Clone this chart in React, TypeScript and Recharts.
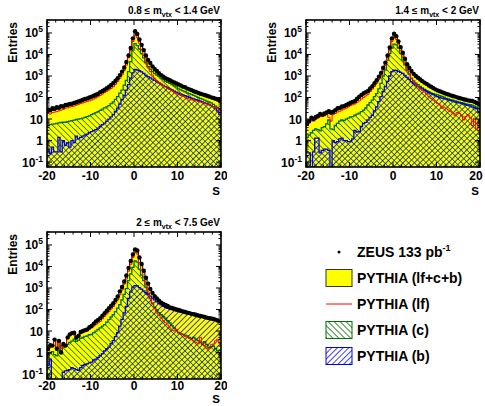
import React from "react";
import { Area, ComposedChart, Line, Scatter, XAxis, YAxis } from "recharts";

// 80 bins of width 0.5 in S, from -20 to 20 (left edges)
const N_BINS = 80;
const EDGES = Array.from({ length: N_BINS + 1 }, (_, i) => -20 + i * 0.5);

// ---- 0.8 <= m_vtx < 1.4 GeV
const p1Zeus = [
  28, 26, 32, 30, 35, 34, 40, 38, 45, 46,
  50, 52, 56, 60, 66, 71, 79, 85, 91, 100,
  110, 120, 135, 150, 178, 200, 230, 270, 316, 380,
  470, 600, 790, 1100, 1600, 2500, 4500, 8900, 20000, 56000,
  120000, 89000, 50000, 28000, 16000, 8900, 5600, 4000, 2800, 2100,
  1700, 1350, 1100, 930, 790, 710, 630, 560, 500, 450,
  400, 360, 320, 300, 260, 240, 220, 195, 180, 165,
  150, 140, 130, 120, 112, 102, 95, 87, 80, 70,
];
const p1Total = [
  22, 22, 25, 26, 29, 29, 33, 34, 38, 40,
  43, 45, 48, 52, 57, 62, 68, 74, 80, 88,
  96, 106, 118, 133, 155, 176, 205, 240, 285, 340,
  420, 540, 720, 1000, 1450, 2300, 4200, 8300, 19000, 53000,
  112000, 85000, 47000, 26000, 15000, 8400, 5300, 3700, 2600, 1950,
  1550, 1250, 1020, 860, 730, 650, 580, 520, 460, 415,
  370, 330, 300, 275, 245, 222, 202, 182, 166, 152,
  140, 130, 120, 111, 103, 95, 88, 80, 73, 65,
];
const p1Lf = [
  18, 17, 20, 21, 22, 24, 26, 28, 32, 33,
  36, 38, 40, 44, 48, 52, 56, 61, 66, 70,
  76, 85, 95, 108, 126, 145, 170, 195, 224, 265,
  316, 410, 560, 780, 1120, 1800, 3200, 7000, 15000, 40000,
  80000, 60000, 33000, 17000, 9000, 4600, 2400, 1600, 1100, 800,
  600, 500, 420, 360, 310, 270, 235, 205, 175, 155,
  140, 125, 115, 105, 90, 85, 78, 74, 71, 66,
  62, 58, 54, 50, 46, 42, 38, 34, 30, 25,
];
const p1C = [
  5, 5.5, 5.8, 6, 6.3, 6.6, 6.9, 7.1, 7.1, 7.6,
  8, 8.5, 8.9, 9.5, 10, 10.5, 11, 12, 13, 14,
  16, 18, 20, 22, 25, 29, 33, 37, 42, 52,
  63, 82, 110, 160, 220, 380, 630, 1600, 4700, 16000,
  32000, 26000, 18000, 11000, 7000, 4200, 2800, 2100, 1600, 1300,
  1100, 950, 800, 680, 560, 500, 450, 400, 350, 310,
  250, 225, 205, 185, 166, 150, 135, 125, 112, 102,
  92, 84, 76, 68, 62, 56, 48, 40, 34, 28,
];
const p1B = [
  0.4, 0.25, 0.5, 0.3, 0.3, 1.4, 0.3, 1.0, 0.6, 0.8,
  0.5, 1.0, 0.8, 1.6, 1.2, 1.4, 1.6, 1.8, 2.0, 2.3,
  2.6, 2.9, 3.2, 3.8, 4.5, 5.5, 6.5, 8, 10, 12.5,
  16, 22, 32, 50, 80, 125, 220, 400, 800, 1400,
  2000, 1900, 1750, 1550, 1320, 1100, 930, 820, 710, 620,
  550, 480, 420, 370, 320, 285, 250, 225, 200, 178,
  160, 145, 132, 122, 112, 102, 93, 86, 80, 73,
  67, 62, 56, 52, 47, 42, 38, 32, 24, 16,
];

// ---- 1.4 <= m_vtx < 2 GeV
const p2Zeus = [
  6, 8, 11.5, 10, 12.6, 14, 17, 16, 18, 20,
  23, 20, 22, 26, 32, 33, 38, 40, 45, 50,
  58, 63, 69, 89, 110, 132, 158, 178, 200, 263,
  339, 457, 630, 930, 1400, 2400, 4200, 8900, 21000, 56000,
  93000, 71000, 40000, 22000, 12000, 6300, 3500, 2400, 1700, 1260,
  1000, 830, 690, 575, 490, 430, 363, 316, 275, 240,
  214, 195, 178, 162, 148, 138, 126, 117, 110, 102,
  95, 89, 83, 79, 74, 71, 69, 63, 56, 50,
];
const p2Total = [
  5, 7, 9, 9, 10, 12, 14, 14, 15, 17,
  19, 17, 18, 22, 26, 28, 32, 34, 38, 42,
  48, 53, 58, 74, 92, 112, 135, 155, 178, 235,
  300, 410, 570, 850, 1300, 2250, 4000, 8500, 20000, 53000,
  88000, 67000, 38000, 20500, 11200, 5900, 3300, 2250, 1600, 1180,
  940, 780, 650, 540, 460, 400, 340, 295, 258, 225,
  200, 182, 166, 151, 138, 128, 117, 108, 101, 94,
  88, 82, 76, 72, 68, 65, 62, 58, 52, 47,
];
const p2Lf = [
  5, 6.5, 8.5, 8, 9.5, 11, 13, 13, 14, 16,
  12, 8, 16, 18, 21, 23, 26, 29, 32, 36,
  42, 46, 50, 60, 70, 85, 100, 118, 140, 190,
  250, 330, 460, 680, 1000, 1700, 3100, 6800, 16000, 40000,
  62000, 50000, 30000, 15000, 7500, 3600, 1800, 1150, 750, 540,
  430, 330, 260, 210, 180, 140, 110, 90, 76, 62,
  52, 45, 32, 36, 30, 26, 22, 19, 15, 20,
  18, 14, 9, 13, 16, 12, 5, 11, 3.3, 7,
];
const p2C = [
  1.4, 1.8, 2.3, 3.0, 3.5, 3.2, 2.8, 4.0, 4.4, 6,
  9, 3.5, 3.2, 5, 6.3, 8, 9, 8.5, 10, 11,
  12.5, 13, 15, 17, 19, 22, 26, 33, 45, 58,
  76, 110, 150, 250, 450, 1000, 1900, 5500, 11000, 20000,
  30000, 28000, 20000, 11000, 5500, 3300, 1900, 1250, 800, 590,
  460, 400, 330, 280, 240, 210, 185, 165, 150, 140,
  132, 122, 112, 104, 92, 86, 80, 75, 70, 66,
  61, 57, 54, 51, 48, 46, 44, 40, 36, 32,
];
const p2B = [
  0.27, 0.27, 0.01, 0.3, 1.3, 1.3, 0.27, 0.35, 0.4, 0.4,
  0.35, 0.01, 1.0, 0.8, 0.9, 1.2, 1.3, 1.0, 1.0, 0.9,
  0.9, 1.2, 3.0, 2.5, 2.6, 4.5, 6.3, 7, 9, 12,
  15, 24, 37, 65, 110, 190, 320, 560, 1000, 1600,
  1850, 1800, 1650, 1480, 1320, 1060, 870, 700, 550, 460,
  380, 320, 280, 250, 224, 190, 170, 150, 135, 120,
  110, 100, 93, 88, 85, 78, 72, 68, 63, 60,
  56, 53, 50, 46, 43, 40, 37, 34, 30, 22,
];

// ---- 2 <= m_vtx < 7.5 GeV
const p3Zeus = [
  1.5, 2.2, 2.1, 4, 1.5, 3.5, 1, 2.5, 2.1, 5,
  7, 8, 8.3, 5, 6, 9, 10, 11, 12, 15,
  17, 22, 28, 33, 40, 52, 68, 88, 115, 150,
  195, 280, 400, 700, 1120, 2000, 3800, 8500, 18000, 36000,
  62000, 55000, 26000, 13000, 6300, 3000, 1600, 900, 590, 420,
  330, 260, 210, 180, 162, 145, 126, 118, 108, 100,
  95, 88, 82, 77, 72, 68, 63, 60, 57, 53,
  50, 48, 45, 42, 40, 38, 36, 34, 31, 28,
];
const p3Total = [
  1.3, 1.8, 2.0, 3.5, 1.6, 3.2, 1.2, 2.2, 2.0, 4.5,
  6, 7, 7.5, 4.5, 5.5, 8, 9, 10, 11, 13.5,
  15.5, 20, 25, 30, 37, 48, 62, 82, 105, 140,
  180, 260, 380, 660, 1060, 1900, 3600, 8000, 17000, 34000,
  58000, 52000, 25000, 12500, 6000, 2900, 1550, 870, 570, 410,
  320, 250, 205, 175, 155, 140, 122, 114, 104, 96,
  90, 84, 78, 73, 68, 64, 60, 56, 53, 50,
  47, 45, 42, 39, 37, 35, 33, 31, 29, 26,
];
const p3Lf = [
  1.0, 1.8, 2.1, 4.0, 1.4, 3.0, 1.5, 2.0, 2.2, 5,
  6.5, 7, 6.5, 4.5, 5, 7.5, 8.5, 9.5, 10, 12,
  14, 17, 20, 24, 28, 37, 48, 62, 80, 105,
  138, 200, 275, 480, 800, 1500, 2600, 6000, 12500, 26000,
  44000, 38000, 15000, 7000, 3200, 1400, 660, 330, 195, 110,
  68, 52, 40, 30, 24, 19, 14, 11, 10, 12,
  9, 8, 7, 5.5, 5, 4.5, 4, 3.5, 3, 2.5,
  5, 3, 2.1, 1.6, 1.5, 2.3, 2.5, 3.5, 4.2, 2.6,
];
const p3C = [
  0.7, 0.9, 1.1, 0.8, 0.7, 1.2, 2.1, 1.8, 2.1, 2.4,
  3, 3.4, 4.2, 3.3, 3.8, 4.6, 5, 5.6, 6, 6.7,
  7, 8.5, 10, 12, 14, 17, 20, 26, 34, 45,
  58, 80, 115, 170, 280, 500, 930, 2200, 4500, 9000,
  18000, 16000, 7600, 4000, 2200, 1100, 550, 320, 195, 130,
  95, 72, 58, 46, 40, 30, 24, 18, 14, 11,
  8.3, 7.5, 7, 6.5, 5.9, 5, 4.4, 5, 4.2, 3.6,
  3.0, 2.5, 3.2, 2.4, 1.7, 1.9, 2.0, 1.5, 1.2, 1.3,
];
const p3B = [
  0.25, 0.5, 0.01, 0.01, 0.01, 0.01, 0.01, 0.12, 0.14, 0.15,
  0.16, 0.2, 0.18, 0.16, 0.15, 0.2, 0.25, 0.28, 0.3, 0.33,
  0.36, 0.45, 0.5, 0.6, 0.72, 0.9, 1.2, 1.5, 1.8, 2.6,
  3.6, 5.5, 8.5, 17, 35, 70, 140, 330, 660, 1100,
  1300, 1250, 1050, 880, 730, 600, 510, 420, 340, 280,
  230, 190, 165, 140, 126, 114, 105, 98, 91, 86,
  81, 76, 71, 67, 63, 59, 56, 53, 51, 48,
  45, 43, 40, 38, 36, 34, 33, 31, 29, 27,
];

const X_TICKS = [-20, -18, -16, -14, -12, -10, -8, -6, -4, -2, 0, 2, 4, 6, 8, 10, 12, 14, 16, 18, 20];
const Y_MIN = 0.059;
const Y_MAX = 4e5;
const Y_TICKS: number[] = [];
for (let e = -2; e <= 5; e++) {
  for (let k = 1; k <= 9; k++) {
    const v = k * Math.pow(10, e);
    if (v >= Y_MIN && v <= Y_MAX) Y_TICKS.push(v);
  }
}

const FONT = "'Liberation Sans', Arial, Helvetica, sans-serif";
const YELLOW = "#ffff00";
const GREEN = "#006e00";
const BLUE = "#0000ee";
const RED = "#ff0000";

// plot geometry inside each chart
const AXW = 45;
const MT = 10;
const MR = 6;
const XH = 32;
const PW = 174;
const PH = 147;

function XTick({ x, payload, gap, clampRight }: any) {
  const v = payload.value;
  const major = v % 10 === 0;
  const len = major ? 5 : 2.5;
  const lx = clampRight ? Math.min(x, AXW + PW - 4) : x;
  return (
    <g>
      <line x1={x} x2={x} y1={MT + PH} y2={MT + PH - len} stroke="#000" />
      <line x1={x} x2={x} y1={MT} y2={MT + len} stroke="#000" />
      {major && (
        <text x={lx} y={MT + PH + gap} textAnchor="middle" fontFamily={FONT} fontWeight="bold" fontSize={12} fill="#000">
          {v}
        </text>
      )}
    </g>
  );
}

function YTick({ y, payload }: any) {
  const v = payload.value;
  const e = Math.log10(v);
  const major = Math.abs(e - Math.round(e)) < 1e-6;
  const len = major ? 5 : 2.5;
  const ex = Math.round(e);
  return (
    <g>
      <line x1={AXW} x2={AXW + len} y1={y} y2={y} stroke="#000" />
      <line x1={AXW + PW} x2={AXW + PW - len} y1={y} y2={y} stroke="#000" />
      {major && (
        <text x={AXW - 4} y={y + 4.5} textAnchor="end" fontFamily={FONT} fontWeight="bold" fontSize={12} fill="#000">
          {ex === 0 ? "1" : "10"}
          {ex !== 0 && ex !== 1 && (
            <tspan dy={-5} fontSize={8.5}>
              {String(ex)}
            </tspan>
          )}
        </text>
      )}
    </g>
  );
}

function Panel({ left, top, gap, clampRight, zeus, total, lf, c, b }: any) {
  const rows = EDGES.map((s, i) => {
    const j = Math.min(i, N_BINS - 1);
    return { s, total: total[j], lf: lf[j], c: c[j], b: b[j] };
  });
  const points = zeus.map((v: number, i: number) => ({ s: EDGES[i] + 0.25, v }));
  return (
    <div style={{ position: "absolute", left: left - AXW, top: top - MT }}>
      <ComposedChart
        width={AXW + PW + MR}
        height={MT + PH + XH}
        data={rows}
        margin={{ top: MT, right: MR, bottom: 0, left: 0 }}
      >
        <XAxis
          dataKey="s"
          type="number"
          domain={[-20, 20]}
          ticks={X_TICKS}
          interval={0}
          axisLine={false}
          tickLine={false}
          height={XH}
          allowDataOverflow
          tick={(p: any) => <XTick {...p} gap={gap} clampRight={clampRight} />}
        />
        <YAxis
          type="number"
          scale="log"
          domain={[Y_MIN, Y_MAX]}
          ticks={Y_TICKS}
          interval={0}
          axisLine={false}
          tickLine={false}
          width={AXW}
          allowDataOverflow
          tick={(p: any) => <YTick {...p} />}
        />
        <Area type="stepAfter" dataKey="total" fill={YELLOW} fillOpacity={1} stroke="#000" strokeWidth={1} isAnimationActive={false} />
        <Area type="stepAfter" dataKey="c" fill="url(#hatchC)" fillOpacity={1} stroke={GREEN} strokeWidth={1.3} isAnimationActive={false} />
        <Area type="stepAfter" dataKey="b" fill="url(#hatchB)" fillOpacity={1} stroke={BLUE} strokeWidth={1.3} isAnimationActive={false} />
        <Line type="stepAfter" dataKey="lf" stroke={RED} strokeWidth={1} dot={false} isAnimationActive={false} />
        <Scatter
          data={points}
          dataKey="v"
          isAnimationActive={false}
          shape={(p: any) => <circle cx={p.cx} cy={p.cy} r={2.2} fill="#000" />}
        />
      </ComposedChart>
    </div>
  );
}

const PANELS = [
  { left: 47, top: 20, gap: 13, sGap: 28, clampRight: false, title: ["0.8 \u2264 m", " < 1.4 GeV"], zeus: p1Zeus, total: p1Total, lf: p1Lf, c: p1C, b: p1B },
  { left: 306, top: 20, gap: 13, sGap: 28, clampRight: true, title: ["1.4 \u2264 m", " < 2 GeV"], zeus: p2Zeus, total: p2Total, lf: p2Lf, c: p2C, b: p2B },
  { left: 47, top: 232, gap: 11, sGap: 24, clampRight: false, title: ["2 \u2264 m", " < 7.5 GeV"], zeus: p3Zeus, total: p3Total, lf: p3Lf, c: p3C, b: p3B },
];

const LEGEND = [
  { kind: "dot", label: "ZEUS 133 pb", sup: "-1" },
  { kind: "yellow", label: "PYTHIA (lf+c+b)" },
  { kind: "red", label: "PYTHIA (lf)" },
  { kind: "green", label: "PYTHIA (c)" },
  { kind: "blue", label: "PYTHIA (b)" },
];

export default function App() {
  const txt = { fontFamily: FONT, fontWeight: "bold" as const, fill: "#000" };
  return (
    <div style={{ position: "absolute", left: 0, top: 0, width: 485, height: 406, background: "#fff", overflow: "hidden" }}>
      <svg width={0} height={0} style={{ position: "absolute" }}>
        <defs>
          <pattern id="hatchC" patternUnits="userSpaceOnUse" width={4.2} height={4.2} patternTransform="rotate(-45)">
            <line x1={0} y1={0} x2={0} y2={4.2} stroke={GREEN} strokeWidth={1.5} />
          </pattern>
          <pattern id="hatchB" patternUnits="userSpaceOnUse" width={4} height={4} patternTransform="rotate(45)">
            <line x1={0} y1={0} x2={0} y2={4} stroke={BLUE} strokeWidth={1.5} />
          </pattern>
        </defs>
      </svg>
      {PANELS.map((p, i) => (
        <Panel key={i} {...p} />
      ))}
      <svg width={485} height={406} style={{ position: "absolute", left: 0, top: 0, pointerEvents: "none" }}>
        {PANELS.map((p, i) => (
          <g key={i}>
            <rect x={p.left} y={p.top} width={PW} height={PH} fill="none" stroke="#000" strokeWidth={1.6} />
            <text x={p.left + PW - 1} y={p.top - 6} textAnchor="end" fontSize={10} {...txt}>
              {p.title[0]}
              <tspan dy={2.5} fontSize={7}>vtx</tspan>
              <tspan dy={-2.5}>{p.title[1]}</tspan>
            </text>
            <text
              x={p.left - 30}
              y={p.top + 2}
              transform={`rotate(-90, ${p.left - 30}, ${p.top + 2})`}
              textAnchor="end"
              fontSize={12}
              {...txt}
            >
              Entries
            </text>
            <text x={p.left + PW - 1} y={p.top + PH + p.sGap} textAnchor="end" fontSize={11.5} {...txt}>
              S
            </text>
          </g>
        ))}
        {LEGEND.map((it, i) => {
          const cy = 252 + i * 26;
          return (
            <g key={it.label}>
              {it.kind === "dot" && <circle cx={339} cy={cy} r={1.5} fill="#000" />}
              {it.kind === "yellow" && <rect x={326} y={cy - 8.5} width={26} height={17} fill={YELLOW} stroke="#333" strokeWidth={1} />}
              {it.kind === "red" && <line x1={326} x2={352} y1={cy} y2={cy} stroke={RED} strokeWidth={1} />}
              {it.kind === "green" && <rect x={326} y={cy - 8.5} width={26} height={17} fill="url(#hatchC)" stroke={GREEN} strokeWidth={1} />}
              {it.kind === "blue" && <rect x={326} y={cy - 8.5} width={26} height={17} fill="url(#hatchB)" stroke={BLUE} strokeWidth={1} />}
              <text x={357} y={cy + 5} fontSize={14} {...txt}>
                {it.label}
                {it.sup && (
                  <tspan dy={-6} fontSize={9}>
                    {it.sup}
                  </tspan>
                )}
              </text>
            </g>
          );
        })}
      </svg>
    </div>
  );
}
